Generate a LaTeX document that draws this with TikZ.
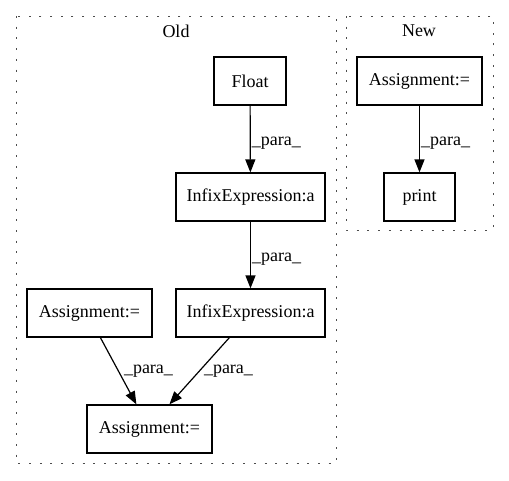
\documentclass[tikz,border=0pt]{standalone}
\usepackage{fontspec}
\setmainfont{Liberation Serif}
\usetikzlibrary{arrows.meta}

\begin{document}
\begin{tikzpicture}[x=1pt,y=1pt]
\tikzstyle{every node}=[font=\fontsize{18}{20}\selectfont]
\tikzstyle{box}=[draw,line width=1.2pt,rectangle,minimum height=48pt,inner xsep=0pt]
\tikzstyle{para}=[fill=none,inner sep=1pt,anchor=west]
\tikzstyle{edge}=[-{Triangle[length=13pt,width=10pt]},line width=1.2pt]
\tikzstyle{cluster}=[draw=black!70,line width=1pt,dash pattern=on 2pt off 8.7pt]
\useasboundingbox (0,0) rectangle (509,-480);
% clusters
\draw [cluster] (16,-16) rectangle (336,-463);
\draw [cluster] (346,-16) rectangle (493,-230);
\node (old) at (176,-31) {Old};
\node (new) at (419,-31) {New};
% old
\node [box,minimum width=72pt] (float) at (250,-81) {Float};
\node [box,minimum width=149pt] (infix1) at (250.5,-197) {InfixExpression:a};
\node [box,minimum width=149pt] (infix2) at (250.5,-313) {InfixExpression:a};
\node [box,minimum width=125pt] (assignl) at (89.5,-313) {Assignment:=};
\node [box,minimum width=125pt] (assignb) at (149.5,-429) {Assignment:=};
% new
\node [box,minimum width=125pt] (assignn) at (419.5,-81) {Assignment:=};
\node [box,minimum width=71pt] (print) at (419.5,-197) {print};
\draw [edge] (float) -- node[para,yshift=-4pt] {\_para\_} (infix1);
\draw [edge] (infix1) -- node[para,yshift=-4pt] {\_para\_} (infix2);
\draw [edge] (assignn) -- node[para,yshift=-4pt] {\_para\_} (print);
\draw [edge] ([xshift=74pt]assignl.south west) -- node[para,xshift=4pt] {\_para\_} ([xshift=50pt]assignb.north west);
\draw [edge] ([xshift=54pt]infix2.south west) -- node[para,xshift=3pt] {\_para\_} ([xshift=83pt]assignb.north west);
\end{tikzpicture}
\end{document}
